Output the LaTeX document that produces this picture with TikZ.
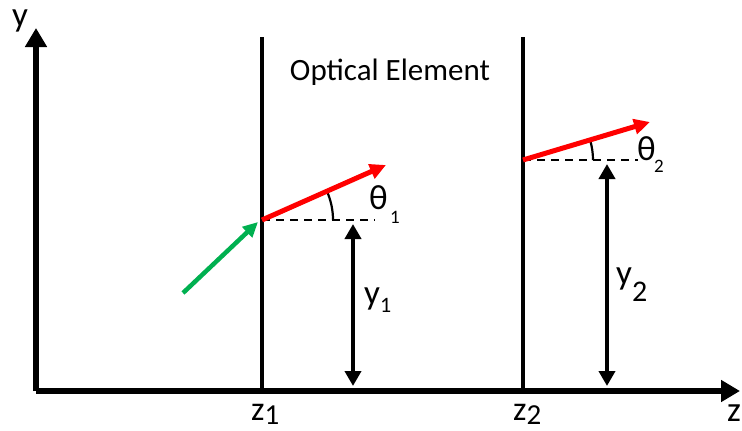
\documentclass[tikz,border=0pt]{standalone}
\usepackage{fontspec}
\setmainfont{Carlito}
\usetikzlibrary{arrows.meta}
\definecolor{rayred}{RGB}{255,0,0}
\definecolor{raygreen}{RGB}{0,176,80}
\begin{document}
\begin{tikzpicture}[x=1pt,y=-1pt,
  axis/.style={line width=5.5pt,-{Triangle[length=19pt,width=21pt]}},
  elem/.style={line width=4pt},
  ray/.style={line width=5pt,rayred,-{Triangle[length=16pt,width=15pt]}},
  inray/.style={line width=4.5pt,raygreen,-{Triangle[length=15pt,width=14pt]}},
  dist/.style={line width=4.5pt,{Triangle[length=15pt,width=16pt]}-{Triangle[length=15pt,width=16pt]}},
  refl/.style={line width=2.2pt,dash pattern=on 8pt off 6pt},
  ang/.style={line width=2.2pt},
  lab/.style={inner sep=0pt,anchor=base west,font=\fontsize{35}{40}\selectfont},
  thl/.style={inner sep=0pt,anchor=base west,font=\fontsize{35}{40}\selectfont}
]
\useasboundingbox (0,0) rectangle (742,431);
% axes
\coordinate (O) at (36,391);
\coordinate (ytip) at (36,28);
\coordinate (ztip) at (740,391);
\draw[axis] (O) -- (ytip);
\draw[axis] (O) -- (ztip);
% optical element planes
\coordinate (e1top) at (262,37);
\coordinate (e1bot) at (262,391);
\coordinate (e2top) at (523,37);
\coordinate (e2bot) at (523,391);
\draw[elem] (e1top) -- (e1bot);
\draw[elem] (e2top) -- (e2bot);
% rays
\coordinate (g0) at (183,293);
\coordinate (gtip) at (258,222);
\coordinate (p1) at (262,220);
\coordinate (r1) at (386,165);
\coordinate (p2) at (523,160);
\coordinate (r2) at (650,122);
\coordinate (d1) at (375,220);
\coordinate (d2) at (638,160);
\draw[refl] (p1) -- (d1);
\draw[refl] (p2) -- (d2);
\draw[ang] (p1) ++(71pt,0pt) arc[start angle=0,end angle=24,radius=71pt];
\draw[ang] (p2) ++(70pt,0pt) arc[start angle=0,end angle=16.5,radius=70pt];
\draw[inray] (g0) -- (gtip);
\draw[ray] (p1) -- (r1);
\draw[ray] (p2) -- (r2);
% distances
\coordinate (a1t) at (353,224);
\coordinate (a1b) at (353,386);
\coordinate (a2t) at (607,164);
\coordinate (a2b) at (607,386);
\draw[dist] (a1t) -- (a1b);
\draw[dist] (a2t) -- (a2b);
% labels
\node[lab] (ylab) at (12,26) {y};
\node[lab] (zlab) at (727,421) {z};
\node[lab,font=\fontsize{34}{40}\selectfont] (z1lab) at (251,420) {z\raisebox{-4pt}{\fontsize{29}{32}\selectfont 1}};
\node[lab,font=\fontsize{34}{40}\selectfont] (z2lab) at (513,420) {z\raisebox{-4pt}{\fontsize{29}{32}\selectfont 2}};
\node[inner sep=0pt,font=\fontsize{31}{36}\selectfont] (oe) at (390,72) {Optical Element};
\node[lab] (y1lab) at (364,304) {y\raisebox{-8pt}{\fontsize{22}{26}\selectfont 1}};
\node[lab] (y2lab) at (616,284) {y\raisebox{-17pt}{\fontsize{30}{34}\selectfont 2}};
\node[thl] (th1) at (369,209) {θ};
\node[inner sep=0pt,anchor=base west,font=\fontsize{19}{22}\selectfont] (th1s) at (390,223) {1};
\node[thl] (th2) at (637,160) {θ};
\node[inner sep=0pt,anchor=base west,font=\fontsize{19}{22}\selectfont] (th2s) at (654,172) {2};
\end{tikzpicture}
\end{document}
